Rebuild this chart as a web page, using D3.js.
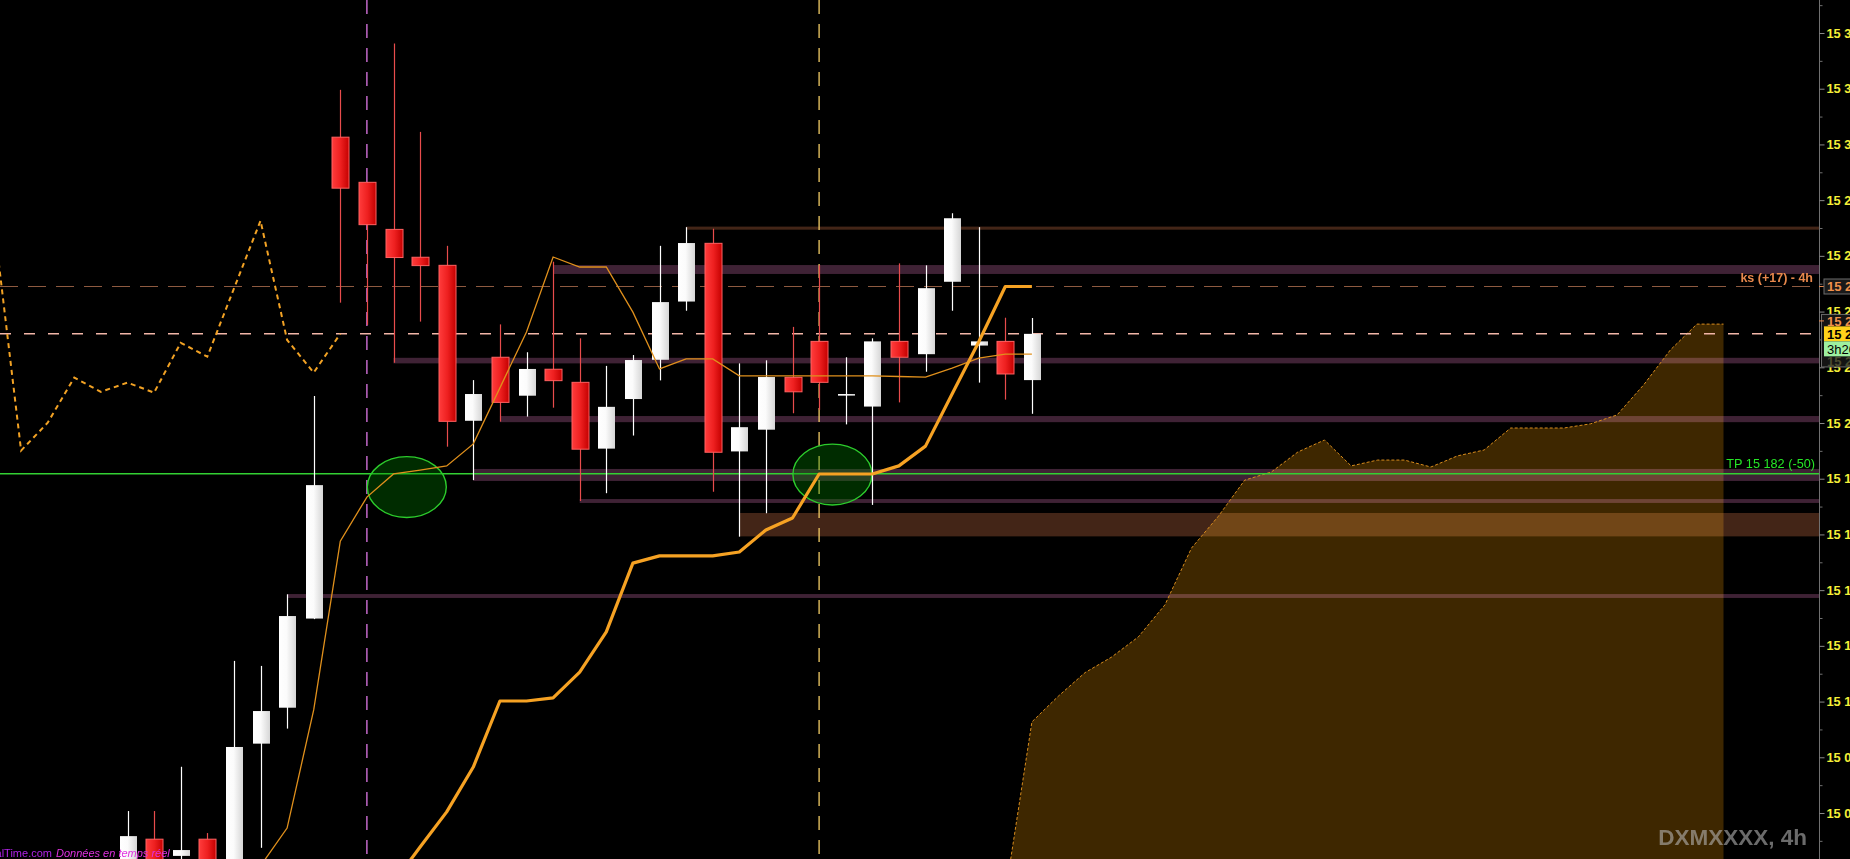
<!DOCTYPE html>
<html><head><meta charset="utf-8">
<script src="https://cdn.jsdelivr.net/npm/d3@7"></script>
<style>html,body{margin:0;padding:0;background:#000;overflow:hidden}svg{display:block}</style>
</head><body><svg id="c" width="1850" height="859"></svg>
<script>
// ---------- data (prices) ----------
const opens  = [15038,15050.6,15044.6,15050.6,15040,15084.9,15097.8,15129.8,15302.6,15286.4,15269.5,15259.5,15256.6,15200.8,15223.6,15209.8,15219.3,15214.6,15190.8,15208.6,15222.7,15243.6,15264.5,15189.8,15197.6,15216.4,15229.3,15210.4,15205.9,15229.3,15224.7,15250.7,15227.8,15229.3,15215.4];
const highs  = [15060.7,15060.7,15076.6,15052.8,15114.6,15112.8,15138.5,15209.7,15319.6,15286.5,15336.2,15304.5,15263.6,15215.4,15235.4,15225.4,15257.9,15230.4,15220.5,15224.4,15263.6,15270.3,15269.7,15221.4,15222.5,15234.5,15256.6,15223.6,15230.4,15257.3,15256.6,15275.3,15270.3,15237.8,15237.7];
const lows   = [15032,15036,15036,15036,15036,15047.5,15090.3,15129.6,15243.2,15235.2,15221.6,15236.4,15191.5,15179.5,15200.5,15202.3,15205.5,15172,15174.8,15195.5,15215.3,15240.3,15175.3,15159.2,15167.6,15203.5,15204.7,15199.5,15170.6,15207.4,15218.4,15240.3,15214.5,15208.4,15203.3];
const closes = [15051.7,15042,15046.7,15040,15083.7,15096.6,15130.7,15177.7,15284.3,15271.2,15259.4,15256.5,15200.6,15210.4,15207.4,15219.4,15215.2,15190.6,15205.8,15222.6,15243.4,15264.6,15189.5,15198.5,15216.5,15211.2,15214.6,15210.4,15229.3,15223.6,15248.4,15273.5,15229.3,15217.6,15232];

const tenkanStart = 5;
const tenkan = [15041,15054.6,15097,15157.6,15173.4,15181.7,15183.1,15184.6,15192.5,15212.6,15232.7,15259.6,15256,15256,15239.8,15219.4,15223,15223,15216.9,15216.9,15216.9,15216.9,15216.9,15216.9,15216.7,15216.5,15219.7,15223.3,15224.7,15224.7];

const kijunStart = 10;
const kijun = [15034.9,15047.8,15060.4,15076.5,15100.2,15100.2,15101.3,15110.6,15125,15149.7,15152.3,15152.3,15152.3,15153.7,15161.6,15165.9,15181.7,15181.7,15181.7,15184.6,15191.7,15210.4,15229.1,15249,15249];

const chikouStart = -5;
const chikou = [15270.4,15190.1,15200.1,15216.3,15211.2,15214.5,15210.9,15228.8,15223.8,15248.2,15272.6,15229.8,15218.1,15232];

const cloudStart = 33;
const senkouTop = [15030.9,15092.7,15102,15110.4,15116,15123.2,15134.7,15155.1,15166.4,15179.5,15182.4,15189.6,15193.9,15184.6,15186.7,15186.7,15184.2,15188.2,15190.3,15198.2,15198.2,15198.2,15199.7,15202.9,15213.7,15226.2,15235.5,15235.5];

// support / resistance zones
const zoneTop    = [15256.7,15270.5,15223.4,15202.5,15183.5,15172.7,15167.7,15138.6];
const zoneBottom = [15253.5,15269.4,15221.4,15200.3,15179.2,15171.3,15159.3,15137.2];
const zoneFrom   = [16,21,10,14,13,17,23,6];
const zoneKind   = ['purple','brown','purple','purple','purple','purple','brown','purple'];

const lastPrice = 15232, ksPrice = 15249, tpPrice = 15182;
const otherPrice = 15237;
const timer = "3h20";
const markIdx = [10.5, 26.5];
const markPrice = [15177, 15181.5];
const vLineIdx = [9, 26];
const tickValues = d3.range(15060, 15341, 20);
const minorValues = d3.range(15050, 15351, 20);

// ---------- chart ----------
const W = 1850, H = 859, plotR = 1819;
const x = d3.scaleLinear().domain([0, 60]).range([127.5, 1723.5]);
const y = d3.scaleLinear().domain([15060, 15340]).range([813, 33]);
const FONT = "'Liberation Sans', Arial, sans-serif";
const fmt = d3.formatLocale({thousands: ' ', grouping: [3], decimal: '.', currency: ['', '']}).format(',');

const svg = d3.select('#c');
svg.append('rect').attr('width', W).attr('height', H).attr('fill', '#000');
const defs = svg.append('defs');
defs.append('clipPath').attr('id', 'plot').append('rect').attr('x', 0).attr('y', 0).attr('width', plotR).attr('height', H);
const gw = defs.append('linearGradient').attr('id', 'gw').attr('x1', 0).attr('x2', 1).attr('y1', 0).attr('y2', 0);
gw.append('stop').attr('offset', '0%').attr('stop-color', '#ffffff');
gw.append('stop').attr('offset', '45%').attr('stop-color', '#fbfbfb');
gw.append('stop').attr('offset', '100%').attr('stop-color', '#d6d6d6');
const gr = defs.append('linearGradient').attr('id', 'gr').attr('x1', 0).attr('x2', 1).attr('y1', 0).attr('y2', 0);
gr.append('stop').attr('offset', '0%').attr('stop-color', '#ff3c3c');
gr.append('stop').attr('offset', '50%').attr('stop-color', '#ee2020');
gr.append('stop').attr('offset', '100%').attr('stop-color', '#c40000');

const g = svg.append('g').attr('clip-path', 'url(#plot)');

// zones
zoneTop.forEach((t, i) => {
  g.append('rect')
    .attr('x', x(zoneFrom[i])).attr('width', plotR - x(zoneFrom[i]))
    .attr('y', y(t)).attr('height', y(zoneBottom[i]) - y(t))
    .attr('fill', zoneKind[i] === 'purple' ? '#3f2235' : '#432517');
});

// cloud
const cloudData = senkouTop.map((v, i) => ({i: cloudStart + i, v}));
g.append('path').datum(cloudData)
  .attr('d', d3.area().x(d => x(d.i)).y0(H + 5).y1(d => y(d.v)))
  .attr('fill', '#3e2700').style('mix-blend-mode', 'screen');
g.append('path').datum(cloudData)
  .attr('d', d3.line().x(d => x(d.i)).y(d => y(d.v)))
  .attr('fill', 'none').attr('stroke', '#d88c1c').attr('stroke-width', 1).attr('stroke-dasharray', '3,2');

// horizontal lines
g.append('line').attr('x1', 0).attr('x2', plotR).attr('y1', y(ksPrice)).attr('y2', y(ksPrice))
  .attr('stroke', '#8e5a40').attr('stroke-width', 1).attr('stroke-dasharray', '18,10');
g.append('line').attr('x1', 0).attr('x2', plotR).attr('y1', y(lastPrice)).attr('y2', y(lastPrice))
  .attr('stroke', '#f2b6a8').attr('stroke-width', 1.5).attr('stroke-dasharray', '11,13');
g.append('line').attr('x1', 0).attr('x2', plotR).attr('y1', y(tpPrice) + 0.5).attr('y2', y(tpPrice) + 0.5)
  .attr('stroke', '#33d033').attr('stroke-width', 1.5);

// vertical dashed lines
const vCol = ['#e078e8', '#f2cc66'];
vLineIdx.forEach((vi, k) => {
  g.append('line').attr('x1', x(vi)).attr('x2', x(vi)).attr('y1', 0).attr('y2', H)
    .attr('stroke', vCol[k]).attr('stroke-width', 1.3).attr('stroke-dasharray', '14,10');
});

// ellipses
markIdx.forEach((mi, k) => {
  g.append('ellipse').attr('cx', x(mi)).attr('cy', y(markPrice[k])).attr('rx', 39.5).attr('ry', 30.4)
    .attr('fill', 'rgba(0,135,0,0.33)').attr('stroke', '#2ccc2c').attr('stroke-width', 1.4);
});

// candles
const cg = g.append('g');
closes.forEach((c, i) => {
  const o = opens[i], up = c >= o;
  const cx = Math.round(x(i)) + 0.5;
  cg.append('line').attr('x1', cx).attr('x2', cx).attr('y1', y(highs[i])).attr('y2', y(lows[i]))
    .attr('stroke', up ? '#ffffff' : '#e84c4c').attr('stroke-width', 1.2);
  const top = y(Math.max(o, c)), bot = y(Math.min(o, c));
  cg.append('rect').attr('x', cx - 8.5).attr('width', 17)
    .attr('y', top).attr('height', Math.max(1.6, bot - top))
    .attr('fill', up ? 'url(#gw)' : 'url(#gr)')
    .attr('stroke', up ? 'none' : '#ff6262').attr('stroke-width', 1);
});

// indicator lines
const lineGen = start => d3.line().x((d, i) => x(start + i)).y(d => y(d));
g.append('path').datum(tenkan).attr('d', lineGen(tenkanStart))
  .attr('fill', 'none').attr('stroke', '#e0901c').attr('stroke-width', 1.3);
g.append('path').datum(kijun).attr('d', lineGen(kijunStart))
  .attr('fill', 'none').attr('stroke', '#f6a223').attr('stroke-width', 3.2).attr('stroke-linejoin', 'round');
g.append('path').datum(chikou).attr('d', lineGen(chikouStart))
  .attr('fill', 'none').attr('stroke', '#f2a224').attr('stroke-width', 2).attr('stroke-dasharray', '5,4');

// text on plot
g.append('text').attr('x', 1815).attr('y', y(tpPrice) - 5).attr('text-anchor', 'end')
  .attr('font-family', FONT).attr('font-size', 12.7).attr('fill', '#26e626')
  .text('TP ' + fmt(tpPrice) + ' (-' + (lastPrice - tpPrice) + ')');
g.append('text').attr('x', 1813).attr('y', y(ksPrice) - 5).attr('text-anchor', 'end')
  .attr('font-family', FONT).attr('font-weight', 'bold').attr('font-size', 12.5).attr('fill', '#e8884c')
  .text('ks (+' + (ksPrice - lastPrice) + ') - 4h');
g.append('text').attr('x', 1807).attr('y', 845).attr('text-anchor', 'end')
  .attr('font-family', FONT).attr('font-weight', 'bold').attr('font-size', 22.5)
  .attr('fill', '#b8b8b8').attr('fill-opacity', 0.58).text('DXMXXXX, 4h');
g.append('text').attr('x', 52).attr('y', 857).attr('text-anchor', 'end').attr('font-family', FONT).attr('font-size', 11)
  .attr('fill', '#b224e8').text('ProRealTime.com');
g.append('text').attr('x', 56).attr('y', 857).attr('font-family', FONT).attr('font-size', 11)
  .attr('font-style', 'italic').attr('fill', '#e032e0').text('Données en temps réel');

// ---------- right axis ----------
svg.append('line').attr('x1', plotR + 0.5).attr('x2', plotR + 0.5).attr('y1', 0).attr('y2', H).attr('stroke', '#707070');
const ax = svg.append('g').attr('transform', `translate(${plotR + 0.5},0)`)
  .call(d3.axisRight(y).tickValues(tickValues).tickSize(5).tickSizeOuter(0).tickPadding(2).tickFormat(fmt));
ax.select('.domain').remove();
ax.selectAll('.tick line').attr('stroke', '#8a8a8a');
ax.selectAll('.tick text').attr('fill', '#f4ee38').attr('font-family', FONT).attr('font-weight', 'bold').attr('font-size', 12.8);
const mx = svg.append('g').attr('transform', `translate(${plotR + 0.5},0)`)
  .call(d3.axisRight(y).tickValues(minorValues).tickSize(3).tickSizeOuter(0).tickFormat(''));
mx.select('.domain').remove();
mx.selectAll('.tick line').attr('stroke', '#707070');

// axis price boxes
const bx = 1824;
function box(yc, h, fill, stroke) {
  svg.append('rect').attr('x', bx).attr('y', yc - h / 2).attr('width', 40).attr('height', h)
    .attr('fill', fill).attr('stroke', stroke || 'none').attr('stroke-width', 1);
}
function btxt(yc, t, col, bold) {
  svg.append('text').attr('x', bx + 3).attr('y', yc).attr('dy', '0.36em').attr('font-family', FONT)
    .attr('font-weight', bold ? 'bold' : 'normal').attr('font-size', 13).attr('fill', col).text(t);
}
// ks
svg.append('line').attr('x1', plotR).attr('x2', bx).attr('y1', y(ksPrice)).attr('y2', y(ksPrice)).attr('stroke', '#e8884c');
box(y(ksPrice), 15, '#1a1a1a', '#6c6c6c');
btxt(y(ksPrice), fmt(ksPrice), '#f0904a', true);
// stacked group
const gTop = y(otherPrice) - 5.5;
svg.append('rect').attr('x', plotR + 2.5).attr('y', gTop).attr('width', 40).attr('height', 52.5)
  .attr('fill', '#141414').attr('stroke', '#6c6c6c');
svg.append('line').attr('x1', plotR).attr('x2', bx).attr('y1', y(otherPrice) + 1).attr('y2', y(otherPrice) + 1).attr('stroke', '#e8884c');
btxt(y(otherPrice) + 1, fmt(otherPrice), '#f0904a', true);
box(y(lastPrice), 15, '#ffd21a');
btxt(y(lastPrice), fmt(lastPrice), '#000', true);
box(y(lastPrice) + 15, 15, '#9ef0a0');
btxt(y(lastPrice) + 15, timer, '#000', false);
svg.append('text').attr('x', bx + 3).attr('y', y(lastPrice) + 27).attr('dy', '0.36em').attr('font-family', FONT)
  .attr('font-weight', 'bold').attr('font-size', 13).attr('fill', '#4a4a30').text(fmt(15220));
</script></body></html>
